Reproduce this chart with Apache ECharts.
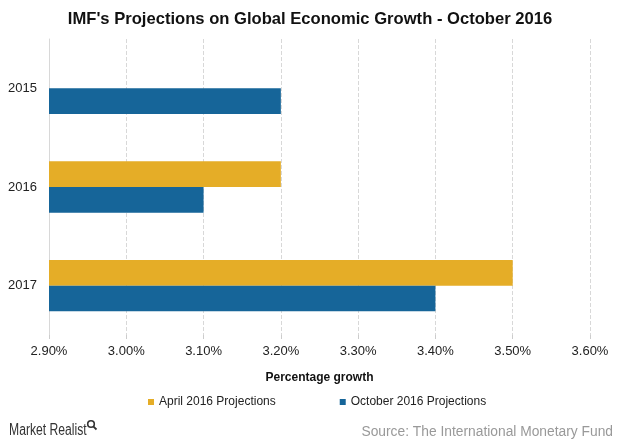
<!DOCTYPE html>
<html><head><meta charset="utf-8">
<script src="https://cdn.jsdelivr.net/npm/echarts@6/dist/echarts.min.js"></script>
<style>html,body{margin:0;padding:0;background:#fff}#c{width:620px;height:443px}</style>
</head><body><div id="c"></div>
<script>
const categories = ['2015', '2016', '2017'];
const aprilValues = [null, 3.2, 3.5];
const octoberValues = [3.2, 3.1, 3.4];
const seriesNames = ['April 2016 Projections', 'October 2016 Projections'];

const chart = echarts.init(document.getElementById('c'));
const font = "'Liberation Sans', Arial, sans-serif";
chart.setOption({
  animation: false,
  title: {
    text: "IMF's Projections on Global Economic Growth - October 2016",
    left: 'center', top: 6,
    textStyle: { fontFamily: font, fontSize: 16.6, fontWeight: 'bold', color: '#111' }
  },
  legend: {
    data: seriesNames, top: 391, left: 143,
    itemWidth: 6, itemHeight: 6, itemGap: 64, icon: 'rect',
    textStyle: { fontFamily: font, fontSize: 12, color: '#222' }
  },
  grid: { left: 49, right: 30, top: 39, bottom: 108, containLabel: false },
  xAxis: {
    type: 'value', min: 2.9, max: 3.6, interval: 0.1,
    name: 'Percentage growth', nameLocation: 'middle', nameGap: 37,
    nameTextStyle: { fontFamily: font, fontSize: 12, fontWeight: 'bold', color: '#111' },
    axisLine: { show: false },
    axisTick: { show: true, length: 4, lineStyle: { color: '#ccc' } },
    axisLabel: { fontFamily: font, fontSize: 13, color: '#222', margin: 10,
      formatter: v => v.toFixed(2) + '%' },
    splitLine: { show: true, lineStyle: { color: '#d8d8d8', type: 'dashed' } }
  },
  yAxis: {
    type: 'category', data: categories, inverse: true,
    axisLine: { show: true, lineStyle: { color: '#d8d8d8' } },
    axisTick: { show: false },
    axisLabel: { fontFamily: font, fontSize: 13, color: '#222', margin: 12 }
  },
  series: [
    { name: seriesNames[0], type: 'bar', data: aprilValues, barGap: '0%', barCategoryGap: '48%',
      itemStyle: { color: '#E5AD27' } },
    { name: seriesNames[1], type: 'bar', data: octoberValues, barGap: '0%', barCategoryGap: '48%',
      itemStyle: { color: '#166599' } }
  ],
  graphic: [
    { type: 'text', x: 9, y: 423, scaleX: 0.76,
      style: { text: 'Market Realist', fontFamily: font, fontSize: 16, fill: '#333' } },
    { type: 'circle', shape: { cx: 91, cy: 424, r: 3.3 },
      style: { fill: 'none', stroke: '#333', lineWidth: 1.6 } },
    { type: 'line', shape: { x1: 93.3, y1: 426.3, x2: 96.5, y2: 429.5 },
      style: { stroke: '#333', lineWidth: 1.8 } },
    { type: 'text', right: 7, top: 425,
      style: { text: 'Source: The International Monetary Fund', fontFamily: font, fontSize: 13.8, fill: '#999' } }
  ]
});
</script></body></html>
